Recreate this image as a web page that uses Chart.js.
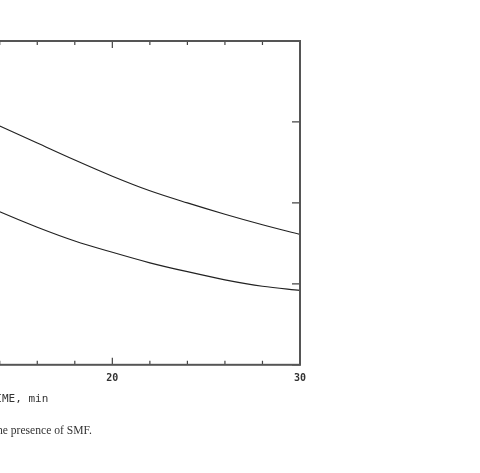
<!DOCTYPE html>
<html>
<head>
<meta charset="utf-8">
<script src="https://cdn.jsdelivr.net/npm/chart.js@4.4.0/dist/chart.umd.min.js"></script>
<style>
  html, body { margin: 0; padding: 0; background: #fff; overflow: hidden; }
  body { width: 480px; height: 473px; position: relative; }
  #wrap { position: absolute; left: -313px; top: 0; width: 633px; height: 473px; }
  #caption {
    position: absolute; right: 388px; top: 424px;
    font-family: "Liberation Serif", "Times New Roman", serif;
    font-size: 11.6px; color: #333; white-space: nowrap;
  }
</style>
</head>
<body>
<div id="wrap"><canvas id="chart"></canvas></div>
<div id="caption">in the presence of SMF.</div>
<script>
// time axis (min) and the two curves
const times = [12, 14, 16, 18, 20, 22, 24, 26, 28, 30];
const upperCurve = [3.16, 2.95, 2.74, 2.53, 2.33, 2.15, 2.00, 1.86, 1.73, 1.61];
const lowerCurve = [2.10, 1.89, 1.70, 1.53, 1.39, 1.26, 1.15, 1.05, 0.97, 0.92];

const xMin = 0, xMax = 30, xStep = 2;
const yMin = 0, yMax = 4, yStep = 1;

// frame plus inward ticks on all four sides
const framePlugin = {
  id: 'frame',
  afterDraw(chart) {
    const { ctx, chartArea: a, scales: { x, y } } = chart;
    ctx.save();
    ctx.strokeStyle = '#444';
    ctx.lineWidth = 1.2;
    for (let t = xMin; t <= xMax; t += xStep) {
      const px = x.getPixelForValue(t);
      const len = t % 10 === 0 ? 7 : 4;
      ctx.beginPath();
      ctx.moveTo(px, a.bottom); ctx.lineTo(px, a.bottom - len);
      ctx.moveTo(px, a.top); ctx.lineTo(px, a.top + len);
      ctx.stroke();
    }
    for (let v = yMin; v <= yMax; v += yStep) {
      const py = y.getPixelForValue(v);
      ctx.beginPath();
      ctx.moveTo(a.right, py); ctx.lineTo(a.right - 8, py);
      ctx.moveTo(a.left, py); ctx.lineTo(a.left + 8, py);
      ctx.stroke();
    }
    ctx.lineWidth = 2;
    ctx.strokeStyle = '#555';
    ctx.strokeRect(a.left, a.top, a.right - a.left, a.bottom - a.top);
    ctx.restore();
  }
};

const lineStyle = {
  borderColor: '#222',
  borderWidth: 1.2,
  pointRadius: 0,
  cubicInterpolationMode: 'monotone',
  fill: false
};

new Chart(document.getElementById('chart'), {
  type: 'line',
  data: {
    datasets: [
      { ...lineStyle, data: times.map((t, i) => ({ x: t, y: upperCurve[i] })) },
      { ...lineStyle, data: times.map((t, i) => ({ x: t, y: lowerCurve[i] })) }
    ]
  },
  options: {
    responsive: true,
    maintainAspectRatio: false,
    animation: false,
    layout: { padding: { top: 41, right: 20, bottom: 63, left: 0 } },
    plugins: { legend: { display: false }, tooltip: { enabled: false } },
    scales: {
      x: {
        type: 'linear',
        min: xMin,
        max: xMax,
        grid: { display: false },
        border: { display: false },
        ticks: {
          stepSize: xStep,
          padding: 0,
          color: '#333',
          font: { family: '"DejaVu Sans Mono", monospace', size: 10, weight: 'bold' },
          maxRotation: 0,
          autoSkip: false,
          callback: v => (v % 10 === 0 ? String(v) : '')
        },
        title: {
          display: true,
          text: 'TIME, min',
          color: '#333',
          font: { family: '"DejaVu Sans Mono", monospace', size: 11 },
          padding: { top: 8, bottom: 4 }
        }
      },
      y: {
        min: yMin,
        max: yMax,
        grid: { display: false },
        border: { display: false },
        ticks: { stepSize: yStep, color: '#333', font: { size: 10 } },
        afterFit: s => { s.width = 50; }
      }
    }
  },
  plugins: [framePlugin]
});
</script>
</body>
</html>
